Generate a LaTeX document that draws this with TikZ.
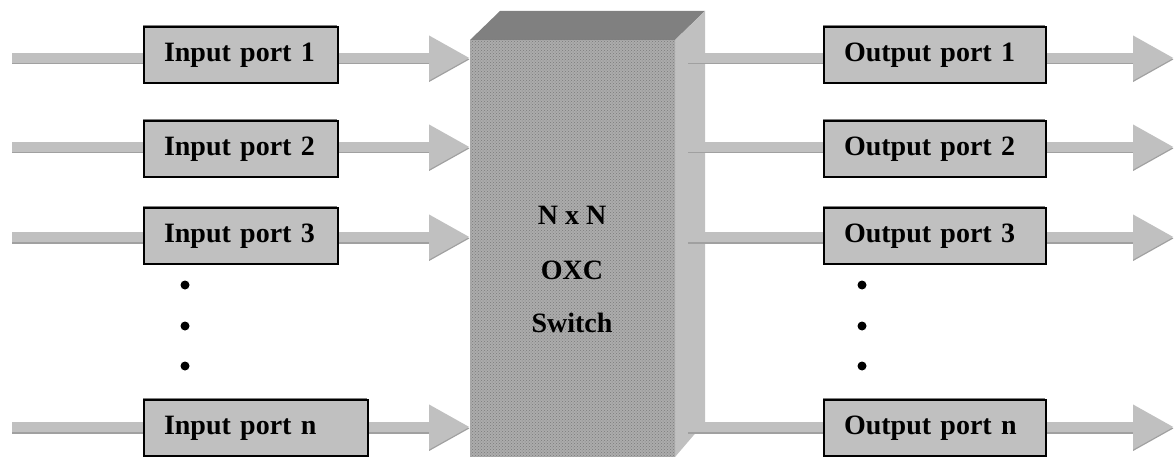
\documentclass[tikz,border=0pt]{standalone}
\usepackage{fontspec}
\setmainfont{Liberation Serif}
\usetikzlibrary{arrows.meta,patterns,backgrounds}
\definecolor{lgray}{HTML}{C0C0C0}
\definecolor{dgray}{HTML}{808080}
\definecolor{mgray}{HTML}{A0A0A0}
\definecolor{fgray}{HTML}{ACACAC}
\definecolor{pgray}{HTML}{7A7A7A}
\tikzset{
  portbox/.style={draw=black, line width=2pt, fill=lgray, rectangle,
    inner xsep=20pt, inner ysep=0pt, minimum height=56pt, anchor=west, align=left,
    font=\fontsize{28}{30}\selectfont\bfseries,
    preaction={fill=dgray, transform canvas={shift={(-1.5pt,2pt)}}}},
  swtext/.style={font=\fontsize{28}{30}\selectfont\bfseries, inner sep=0pt},
  gline/.style={draw=lgray, line width=10pt,
    preaction={draw=mgray, line width=10pt, transform canvas={yshift=-1.5pt}}},
  garrow/.style={draw=lgray, line width=10pt, -{Triangle[length=41pt,width=42pt]},
    preaction={draw=mgray, line width=10pt, -{Triangle[length=41pt,width=42pt]}, transform canvas={yshift=-1.5pt}}},
  dotmark/.style={circle, fill=black, inner sep=0pt, minimum size=9pt}
}
\begin{document}
\begin{tikzpicture}[x=1pt,y=-1pt]
\useasboundingbox (0,0) rectangle (1174,457);
% port boxes
\node[portbox, text width=154pt] (in1) at (143,55) {Input port 1};
\node[portbox, text width=154pt] (in2) at (143,149) {Input port 2};
\node[portbox, text width=154pt] (in3) at (143,236) {Input port 3};
\node[portbox, text width=184pt] (inn) at (143,428) {Input port n};
\node[portbox, text width=182pt] (out1) at (823,55) {Output port 1};
\node[portbox, text width=182pt] (out2) at (823,149) {Output port 2};
\node[portbox, text width=182pt] (out3) at (823,236) {Output port 3};
\node[portbox, text width=182pt] (outn) at (823,428) {Output port n};
% switch text
\node[swtext] (t1) at (572,215) {N x N};
\node[swtext] (t2) at (572,270) {OXC};
\node[swtext] (t3) at (572,323) {Switch};
% dots
\node[dotmark] (d1) at (185,285) {};
\node[dotmark] (d2) at (185,326) {};
\node[dotmark] (d3) at (185,366) {};
\node[dotmark] (d4) at (862,285) {};
\node[dotmark] (d5) at (862,326) {};
\node[dotmark] (d6) at (862,366) {};
% coordinates
\coordinate (a1) at (12,58);  \coordinate (b1) at (470,58);
\coordinate (a2) at (12,147); \coordinate (b2) at (470,147);
\coordinate (a3) at (12,237); \coordinate (b3) at (470,237);
\coordinate (an) at (12,427); \coordinate (bn) at (470,427);
\coordinate (s1) at (688,58);  \coordinate (e1) at (1174,58);
\coordinate (s2) at (688,147); \coordinate (e2) at (1174,147);
\coordinate (s3) at (688,237); \coordinate (e3) at (1174,237);
\coordinate (sn) at (688,427); \coordinate (en) at (1174,427);
\begin{scope}[on background layer]
  % switch block
  \fill[dgray] (470,40) -- (500,11) -- (705,11) -- (675,40) -- cycle;
  \fill[lgray] (675,40) -- (705,11) -- (705,422) -- (675,457) -- cycle;
  \fill[fgray] (470,40) rectangle (675,457);
  \fill[pattern=crosshatch dots, pattern color=pgray] (470,40) rectangle (675,457);
  % connectors
  \foreach \r in {1,2,3,n}{
    \draw[gline] (a\r) -- (a\r -| in\r.west);
    \draw[garrow] (a\r -| in\r.east) -- (b\r);
    \draw[gline] (s\r) -- (s\r -| out\r.west);
    \draw[garrow] (s\r -| out\r.east) -- (e\r);
  }
\end{scope}
\end{tikzpicture}
\end{document}
